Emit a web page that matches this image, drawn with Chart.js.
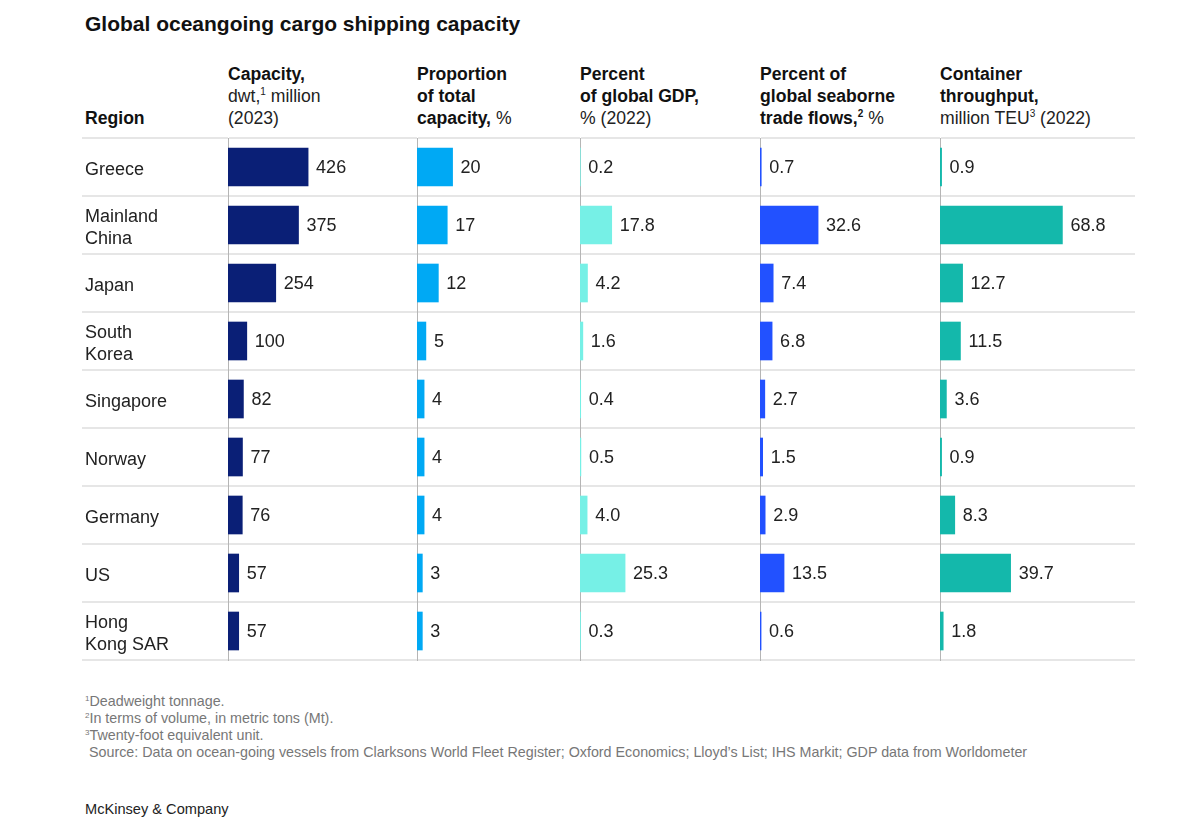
<!DOCTYPE html>
<html>
<head>
<meta charset="utf-8">
<script src="https://cdn.jsdelivr.net/npm/chart.js@4.4.1/dist/chart.umd.min.js"></script>
<style>
  body { margin: 0; background: #fff; font-family: "Liberation Sans", Arial, sans-serif; color: #222; }
  #page { position: relative; width: 1180px; height: 821px; overflow: hidden; }
  .abs { position: absolute; }
  .title { left: 85px; top: 12px; font-size: 21px; font-weight: bold; color: #111; }
  .head { top: 63px; font-size: 17.6px; line-height: 22px; color: #222; }
  .head b { color: #111; }
  .head sup { font-size: 10px; line-height: 0; vertical-align: 7px; }
  .notes { left: 85px; top: 693px; font-size: 14.3px; line-height: 17px; color: #777; }
  .notes sup { font-size: 8px; line-height: 0; vertical-align: 5px; }
  .brand { left: 85px; top: 801px; font-size: 14.6px; color: #222; }
  .box { top: 128px; height: 542px; }
</style>
</head>
<body>
<div id="page">
  <div class="abs title">Global oceangoing cargo shipping capacity</div>
  <div class="abs head" style="left:85px; top:107px;"><b>Region</b></div>
  <div class="abs head" style="left:228px;"><b>Capacity,</b><br>dwt,<sup>1</sup> million<br>(2023)</div>
  <div class="abs head" style="left:417px;"><b>Proportion<br>of total<br>capacity,</b> %</div>
  <div class="abs head" style="left:580px;"><b>Percent<br>of global GDP,</b><br>% (2022)</div>
  <div class="abs head" style="left:760px;"><b>Percent of<br>global seaborne<br>trade flows,<sup>2</sup></b> %</div>
  <div class="abs head" style="left:940px;"><b>Container<br>throughput,</b><br>million TEU<sup>3</sup> (2022)</div>

  <div class="abs box" style="left:82px; width:335px;"><canvas id="c1"></canvas></div>
  <div class="abs box" style="left:417px; width:163px;"><canvas id="c2"></canvas></div>
  <div class="abs box" style="left:580px; width:180px;"><canvas id="c3"></canvas></div>
  <div class="abs box" style="left:760px; width:180px;"><canvas id="c4"></canvas></div>
  <div class="abs box" style="left:940px; width:195px;"><canvas id="c5"></canvas></div>

  <div class="abs notes">
    <sup>1</sup>Deadweight tonnage.<br>
    <sup>2</sup>In terms of volume, in metric tons (Mt).<br>
    <sup>3</sup>Twenty-foot equivalent unit.<br>
    &nbsp;Source: Data on ocean-going vessels from Clarksons World Fleet Register; Oxford Economics; Lloyd’s List; IHS Markit; GDP data from Worldometer
  </div>
  <div class="abs brand">McKinsey &amp; Company</div>
</div>

<script>
const regions = ["Greece", ["Mainland", "China"], "Japan", ["South", "Korea"], "Singapore", "Norway", "Germany", "US", ["Hong", "Kong SAR"]];
const capacity = [426, 375, 254, 100, 82, 77, 76, 57, 57];
const shareOfCapacity = [20, 17, 12, 5, 4, 4, 4, 3, 3];
const shareOfGdp = [0.2, 17.8, 4.2, 1.6, 0.4, 0.5, 4.0, 25.3, 0.3];
const shareOfTrade = [0.7, 32.6, 7.4, 6.8, 2.7, 1.5, 2.9, 13.5, 0.6];
const throughput = [0.9, 68.8, 12.7, 11.5, 3.6, 0.9, 8.3, 39.7, 1.8];

Chart.defaults.font.family = '"Liberation Sans", Arial, sans-serif';
Chart.defaults.font.size = 18;
Chart.defaults.color = "#222";

const valueLabels = {
  id: "valueLabels",
  afterDatasetsDraw(chart, args, opts) {
    const ctx = chart.ctx;
    const meta = chart.getDatasetMeta(0);
    const values = chart.data.datasets[0].data;
    ctx.save();
    ctx.font = '18px "Liberation Sans", Arial, sans-serif';
    ctx.fillStyle = "#222";
    ctx.textBaseline = "middle";
    ctx.textAlign = "left";
    meta.data.forEach((bar, i) => {
      ctx.fillText(values[i].toFixed(opts.decimals), bar.x + 8, bar.y + 1);
    });
    ctx.restore();
  }
};

function makeChart(id, values, color, max, decimals, withLabels) {
  return new Chart(document.getElementById(id), {
    type: "bar",
    data: {
      labels: regions,
      datasets: [{ data: values, backgroundColor: color, barThickness: 38, borderWidth: 0 }]
    },
    options: {
      indexAxis: "y",
      responsive: true,
      maintainAspectRatio: false,
      animation: false,
      layout: { padding: { left: withLabels ? 3 : 0, right: 0, top: 10, bottom: 10 } },
      plugins: { legend: { display: false }, tooltip: { enabled: false }, valueLabels: { decimals: decimals } },
      scales: {
        x: { display: false, min: 0, max: max },
        y: {
          grid: { color: "#e6e6e6", lineWidth: 2, drawTicks: withLabels, tickLength: withLabels ? 146 : 0, offset: true },
          border: { display: true, color: "#b5b5b5", width: 1 },
          ticks: { display: withLabels, crossAlign: "far", padding: 0, labelOffset: 3, color: "#222", font: { size: 18, lineHeight: 1.22 } },
          afterFit(axis) {
            axis.width = withLabels ? 143 : 0;
            axis.paddingTop = 0;
            axis.paddingBottom = 0;
          }
        }
      }
    },
    plugins: [valueLabels]
  });
}

makeChart("c1", capacity, "#0a1f76", 1005, 0, true);
makeChart("c2", shareOfCapacity, "#00a9f4", 91.6, 0, false);
makeChart("c3", shareOfGdp, "#76f0e6", 101, 1, false);
makeChart("c4", shareOfTrade, "#2251ff", 101, 1, false);
makeChart("c5", throughput, "#14b8ab", 109.6, 1, false);
</script>
</body>
</html>
